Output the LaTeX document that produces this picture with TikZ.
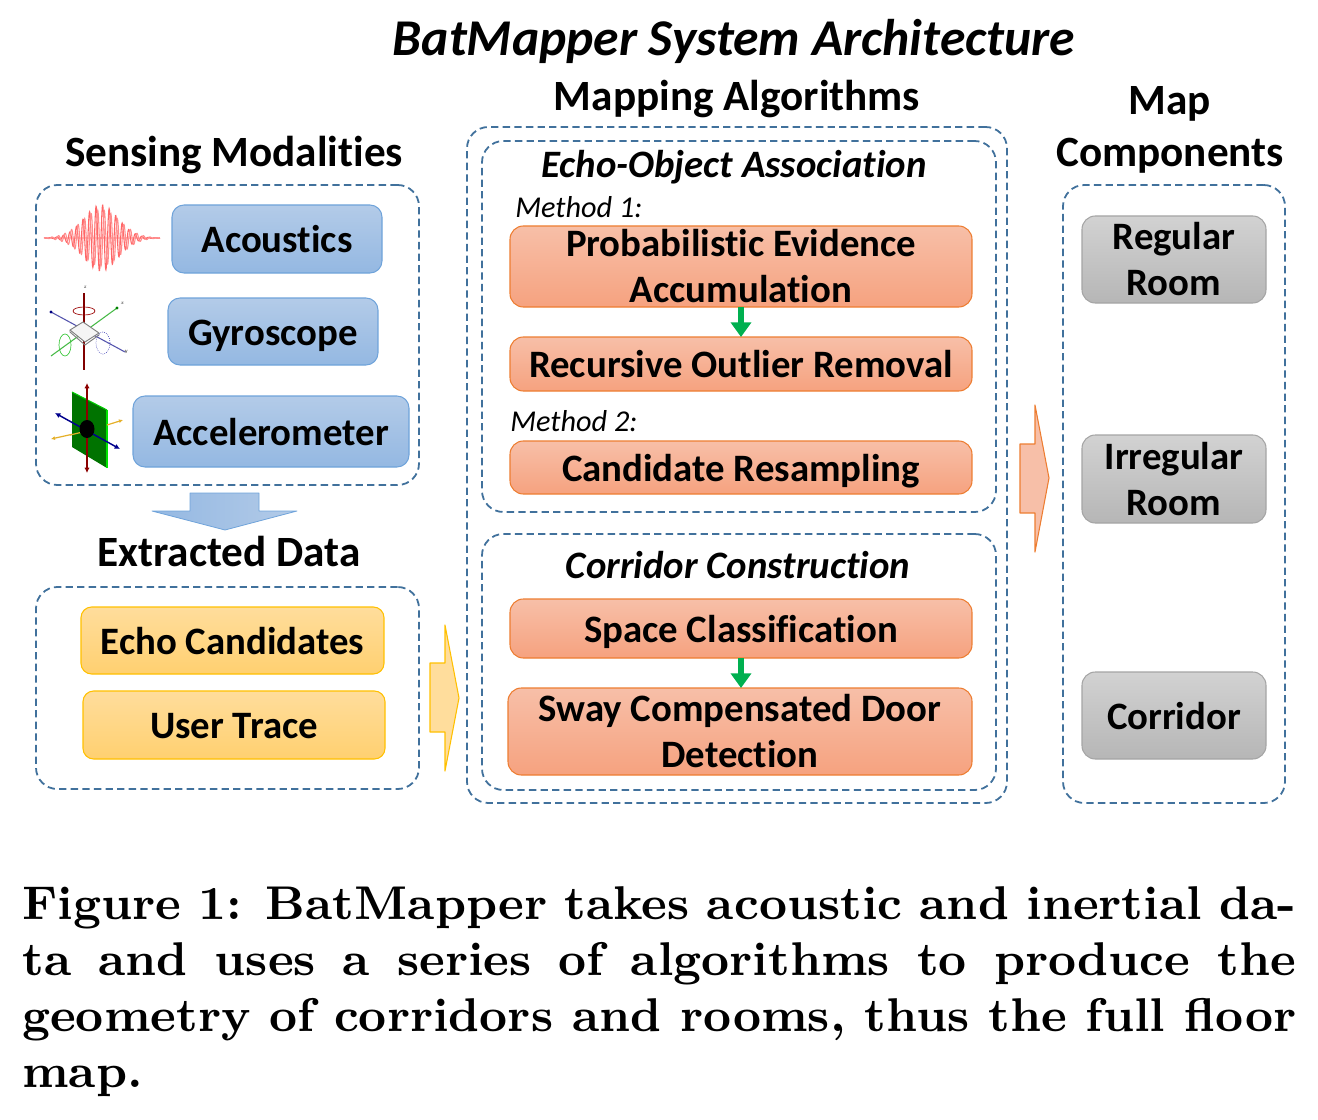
\documentclass[tikz,border=0pt]{standalone}
\usepackage{fontspec}
\setsansfont{Carlito}[Ligatures=NoCommon]
\newfontfamily\capf{lmroman9-bold.otf}
\usetikzlibrary{arrows.meta}
\definecolor{dashblue}{HTML}{41719C}
\definecolor{blueT}{HTML}{B3CBE8}\definecolor{blueB}{HTML}{94B8E2}\definecolor{blueL}{HTML}{6FA3DA}
\definecolor{orT}{HTML}{F7BFA8}\definecolor{orB}{HTML}{F6A27F}\definecolor{orL}{HTML}{ED7D31}
\definecolor{yeT}{HTML}{FFDD9C}\definecolor{yeB}{HTML}{FFD070}\definecolor{yeL}{HTML}{FFC000}
\definecolor{grT}{HTML}{D2D2D2}\definecolor{grB}{HTML}{B6B6B6}\definecolor{grL}{HTML}{A5A5A5}
\definecolor{arrowgreen}{HTML}{00B050}
\definecolor{gold}{HTML}{E5B02A}
\tikzset{
 x=0.75pt,y=-0.75pt,
 wh/.style 2 args={minimum width=#1*0.75pt,minimum height=#2*0.75pt,inner sep=0pt,outer sep=0pt},
 lab/.style={font=\sffamily\bfseries\fontsize{29.1}{34.5}\selectfont,align=center,text=black},
 one/.style={text height=27.5pt,text depth=7pt},
 head/.style={font=\sffamily\bfseries\fontsize{32.4}{38.5}\selectfont,align=center,inner sep=0pt},
 ihead/.style={font=\sffamily\bfseries\itshape\fontsize{29.1}{34}\selectfont,inner sep=0pt},
 meth/.style={font=\sffamily\itshape\fontsize{22.7}{26}\selectfont,inner sep=0pt,anchor=west},
 group/.style={draw=dashblue,line width=1.35pt,dash pattern=on 5.5pt off 3.2pt,rounded corners=16pt},
 bluebox/.style={lab,draw=blueL,line width=.8pt,rounded corners=9pt,top color=blueT,bottom color=blueB},
 orbox/.style={lab,draw=orL,line width=.8pt,rounded corners=10pt,top color=orT,bottom color=orB},
 yebox/.style={lab,draw=yeL,line width=.8pt,rounded corners=8pt,top color=yeT,bottom color=yeB},
 grbox/.style={lab,draw=grL,line width=.8pt,rounded corners=10pt,top color=grT,bottom color=grB},
 flow/.style={draw=arrowgreen,line width=5pt,-{Triangle[length=11pt,width=15pt]}},
}
\begin{document}
\begin{tikzpicture}
\useasboundingbox (0,0) rectangle (1318,1120);
% headings
\node[inner sep=0pt,font=\sffamily\bfseries\itshape\fontsize{38.7}{40}\selectfont] (title) at (734,41) {BatMapper System Architecture};
\node[head] (hmap) at (737,99) {Mapping Algorithms};
\node[head] (hsens) at (234,155) {Sensing Modalities};
\node[head] (hmapc) at (1170,130) {Map\\Components};
\node[head] (hext) at (229,551) {Extracted Data};
% groups
\node[group,wh={383}{300}] (gsens) at (227.5,335) {};
\node[group,wh={383}{202}] (gext) at (227.5,688) {};
\node[group,wh={540}{676}] (gmap) at (737,465) {};
\node[group,wh={514}{371}] (gecho) at (739,326.5) {};
\node[group,wh={514}{256}] (gcorr) at (739,662) {};
\node[group,wh={222}{618}] (gcomp) at (1174,494) {};
% sensing
\node[bluebox,one,wh={210}{68}] (acou) at (277,239) {Acoustics};
\node[bluebox,one,wh={210}{67}] (gyro) at (273,331.5) {Gyroscope};
\node[bluebox,one,wh={276}{71}] (acce) at (271,431.5) {Accelerometer};
% extracted
\node[yebox,one,wh={303}{67}] (echo) at (232.5,640.5) {Echo Candidates};
\node[yebox,one,wh={302}{68}] (trace) at (234,725) {User Trace};
% algorithms
\node[ihead] (heo) at (734,167) {Echo-Object Association};
\node[meth] (m1) at (515,207) {Method 1:};
\node[orbox,wh={462}{81}] (prob) at (741,266.5) {Probabilistic Evidence\\Accumulation};
\node[orbox,one,wh={462}{54}] (rec) at (741,364) {Recursive Outlier Removal};
\node[meth] (m2) at (510,421) {Method 2:};
\node[orbox,one,wh={462}{53}] (cand) at (741,467.5) {Candidate Resampling};
\node[ihead] (hcc) at (738,565) {Corridor Construction};
\node[orbox,one,wh={462}{59}] (space) at (741,628.5) {Space Classification};
\node[orbox,wh={464}{87}] (sway) at (740,731.5) {Sway Compensated Door\\Detection};
\draw[flow] (prob.south) -- (rec.north);
\draw[flow] (space.south) -- (space.south |- sway.north);
% components
\node[grbox,wh={184}{87}] (reg) at (1174,259.5) {Regular\\Room};
\node[grbox,wh={184}{88}] (irr) at (1174,479) {Irregular\\Room};
\node[grbox,one,wh={184}{87}] (cor) at (1174,715.5) {Corridor};
% block arrows
\draw[blueL,line width=.6pt,line join=round,left color=blueB,right color=blueT]
 (190,493)--(259,493)--(259,511)--(297,511)--(225,530)--(152,511)--(190,511)--cycle;
\draw[yeL,line width=.8pt,line join=round,fill=yeT] (430,663)--(445,663)--(445,625)--(459,698)--(445,771)--(445,732)--(430,732)--cycle;
\draw[orL,line width=.8pt,line join=round,fill=orT] (1020,444)--(1035,444)--(1035,405)--(1049,478)--(1035,552)--(1035,513)--(1020,513)--cycle;
% acoustic wave icon
\draw[red!22!white,line width=2pt] (44,238)--(160,238);
\draw[red!60!white,line width=.8pt,smooth] plot[domain=44:160,samples=400] (\x,{238-33*exp(-((\x-101)/24)^2)*sin(55*(\x-101))});
\draw[red!45!white,line width=.8pt,smooth] plot[domain=44:160,samples=400] (\x,{238+28*exp(-((\x-101)/27)^2)*cos(55*(\x-101))});
% gyroscope icon
\draw[red!50!black,line width=.9pt] (84,293)--(84,370);
\draw[green!45!gray,line width=.8pt] (51,356)--(117,308);
\draw[blue!35!gray,line width=.8pt] (51,312)--(125,352);
\fill[blue!50!black] (51,312) circle (1.2pt);
\fill[green!50!black] (117,308) circle (1.2pt);
\draw[gray,fill=gray!8,line width=.7pt,line join=round] (70,330)--(83,322)--(99,333)--(85,342)--cycle;
\draw[gray,line width=.7pt] (70,330)--(70,332)--(85,345)--(99,335)--(99,333);
\draw[red!60!black,line width=.5pt] (84,311) ellipse (11 and 4);
\draw[green!55!gray,line width=.5pt] (65,345) ellipse (6 and 11);
\draw[blue!45!gray,line width=.5pt,densely dotted] (103,343) ellipse (7 and 11);
\node[inner sep=0pt,font=\itshape\fontsize{4}{5}\selectfont] (gz) at (85,287) {z};
\node[inner sep=0pt,font=\itshape\fontsize{4}{5}\selectfont] (gx) at (122,303) {x};
\node[inner sep=0pt,font=\itshape\fontsize{4}{5}\selectfont] (gy) at (126,352) {y};
% accelerometer icon
\draw[gold,line width=.9pt,-{Latex[length=3pt,width=3pt]}] (87,431)--(51,439);
\fill[green!45!black] (72,392)--(107,410)--(107,468)--(72,447)--cycle;
\draw[green!90!black,line width=1.2pt] (107,410)--(107,468);
\draw[green!80!black,line width=.8pt] (72,392)--(107,410);
\draw[gold,line width=.9pt,-{Latex[length=3pt,width=3pt]}] (107,425)--(123,420);
\draw[blue!55!black,line width=1.1pt,{Latex[length=4pt,width=4pt]}-{Latex[length=4pt,width=4pt]}] (55,413)--(120,449);
\draw[red!55!black,line width=1.1pt,{Latex[length=4pt,width=4pt]}-{Latex[length=4pt,width=4pt]}] (87,383)--(87,473);
\draw[gold,line width=.9pt] (87,431)--(70,435);
\fill[black] (87,429) ellipse (7.5 and 9);
% caption
\node[anchor=north west,inner sep=0pt,text width=955.5pt,align=justify,font=\capf\fontsize{35.5}{42}\selectfont] (cap) at (22,886)
 {Figure 1: BatMapper takes acoustic and inertial da-\break
  ta and uses a series of algorithms to produce the\break
  geometry of corridors and rooms, thus the full floor\break
  map.};
\end{tikzpicture}
\end{document}
